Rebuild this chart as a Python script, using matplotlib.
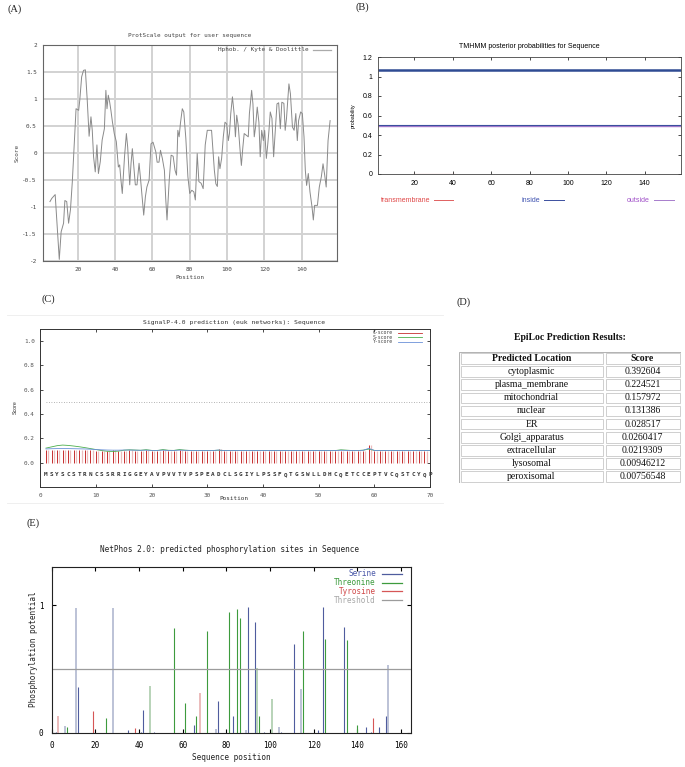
import matplotlib

matplotlib.use("Agg")
import matplotlib.pyplot as plt  # noqa: E402
import numpy as np  # noqa: E402
from matplotlib.lines import Line2D  # noqa: E402
from matplotlib.patches import Rectangle  # noqa: E402

W, H = 685, 767
MONO = "DejaVu Sans Mono"
SANS = "Liberation Sans"
SERIF = "Liberation Serif"

# (A) ProtScale, Kyte & Doolittle hydropathy
KD_POS = [5, 6, 7, 7.8, 10, 11, 12.3, 13, 14, 15, 16, 17, 18.2, 19, 20.4, 21, 22, 23, 24, 25,
          26, 27, 27.7, 28.4, 29.3, 30.2, 31, 32, 33, 34.2, 35, 35.6, 36.3, 37, 37.7, 38.5,
          39.5, 40.6, 41.7, 42.4, 43, 43.8, 45, 46, 46.7, 47.8, 48.5, 49.2, 50, 50.8, 51.7,
          52.8, 53.5, 55.3, 56.2, 57, 58.2, 59.2, 60.3, 61.8, 62.5, 63.5, 64.3, 65.3, 66.4,
          67.1, 67.8, 69, 70, 71.1, 72.1, 72.9, 73.6, 74.3, 75, 76, 76.8, 77.9, 79, 80, 81.1,
          82.2, 83, 84, 84.9, 86.1, 87.2, 88.3, 89.4, 91.7, 93.2, 94, 94.8, 95.5, 96.2, 97.1,
          98, 98.9, 99.8, 100.7, 101.3, 102, 102.9, 103.8, 104.5, 105.2, 106, 107, 107.7,
          108.5, 109.2, 110.3, 111.4, 112, 113.2, 113.9, 114.6, 115.3, 116.2, 117.1, 117.8,
          118.6, 119.5, 120.2, 121.1, 121.8, 122.5, 123.2, 124.1, 125, 125.9, 126.8, 127.7,
          128.6, 129.4, 130.5, 131.2, 131.9, 133.2, 134, 135.1, 136, 136.9, 137.7, 138.4,
          139.5, 140.4, 141.3, 142, 142.7, 143.6, 144.5, 145.6, 146.3, 147, 148.5, 149.5,
          150.6, 151.5, 152.4, 153.2, 154.2, 155.3]
KD_SCORE = [-0.90, -0.84, -0.80, -0.77, -1.97, -1.46, -1.30, -0.88, -0.90, -1.30, -1.05, -0.53,
            0.30, 0.82, 0.79, 0.98, 1.41, 1.53, 1.54, 0.98, 0.31, 0.67, 0.42, -0.07, -0.35, 0.15,
            -0.38, -0.16, 0.24, 0.45, 1.16, 0.82, 1.07, 0.95, 0.79, 0.58, 0.36, 0.21, -0.26,
            -0.22, -0.47, -0.75, -0.07, 0.36, 0.11, -0.59, -0.19, 0.08, -0.26, -0.59, -0.59,
            -0.19, -0.44, -1.15, -0.81, -0.63, -0.50, 0.17, 0.20, 0.02, -0.17, -0.17, 0.05,
            -0.10, -0.32, -0.84, -1.24, -0.50, -0.04, -0.06, -0.32, -0.41, 0.42, 0.30, 0.55,
            0.82, 0.76, 0.27, -0.44, -0.75, -0.69, -0.72, -0.87, -0.01, -0.53, -0.56, -0.66,
            0.15, 0.42, 0.42, -0.32, -0.57, -0.62, -0.07, -0.29, -0.10, 0.30, 0.57, 0.54, 0.23,
            0.36, 0.73, 1.04, 0.73, 0.30, 0.70, 0.51, 0.05, -0.23, 0.11, 0.36, 0.33, 0.30, 0.73,
            1.16, 0.91, 0.30, 0.48, 0.85, 0.57, -0.07, 0.42, 0.23, 0.42, -0.10, 0.14, 0.42,
            0.76, 0.64, -0.07, 0.42, 0.91, 0.93, 0.45, 0.94, 0.92, 0.42, 0.64, 1.28, 1.10, 0.48,
            0.42, 0.73, 0.23, 0.60, 0.76, 0.73, 0.30, -0.32, -0.60, -0.38, -0.72, -1.00, -1.24,
            -0.97, -0.97, -0.63, -0.44, -0.20, -0.41, -0.63, 0.23, 0.60]

# (B) TMHMM
SEQ_LEN = 159
TOPOLOGY_INSIDE = 1.065
P_INSIDE = 0.503
P_OUTSIDE = 0.497
TM_SPAN = [19, 41]

# (C) SignalP-4.0, first 70 residues
SEQ70 = "MSYSCSTRNCSSRRIGGEYAVPVVTVPSPEADCLSGIYLPSSFQTGSWLLDHCQETCCEPTVCQSTCYQP"
C_SCORE = [0.105, 0.104, 0.103, 0.102, 0.102, 0.101, 0.101, 0.102, 0.101, 0.100,
           0.100, 0.100, 0.101, 0.100, 0.100, 0.101, 0.100, 0.100, 0.101, 0.100,
           0.100, 0.101, 0.100, 0.100, 0.101, 0.100, 0.100, 0.100, 0.100, 0.100,
           0.100, 0.115, 0.100, 0.100, 0.100, 0.100, 0.100, 0.100, 0.100, 0.100,
           0.100, 0.100, 0.100, 0.100, 0.100, 0.100, 0.100, 0.100, 0.100, 0.100,
           0.100, 0.100, 0.100, 0.100, 0.100, 0.100, 0.100, 0.100, 0.145, 0.100,
           0.100, 0.100, 0.100, 0.100, 0.100, 0.100, 0.100, 0.100, 0.100, 0.100]
S_SCORE = [0.120, 0.130, 0.140, 0.145, 0.142, 0.137, 0.131, 0.124, 0.116, 0.108,
           0.100, 0.094, 0.092, 0.095, 0.103, 0.106, 0.104, 0.102, 0.107, 0.101,
           0.100, 0.108, 0.102, 0.101, 0.108, 0.103, 0.100, 0.101, 0.100, 0.100,
           0.100, 0.103, 0.100, 0.100, 0.101, 0.100, 0.100, 0.100, 0.100, 0.100,
           0.100, 0.100, 0.100, 0.100, 0.100, 0.100, 0.100, 0.100, 0.100, 0.100,
           0.100, 0.100, 0.100, 0.106, 0.103, 0.100, 0.100, 0.103, 0.112, 0.101,
           0.100, 0.100, 0.100, 0.100, 0.100, 0.100, 0.100, 0.100, 0.100, 0.100]
Y_SCORE = [0.113, 0.115, 0.116, 0.116, 0.116, 0.115, 0.114, 0.113, 0.111, 0.108,
           0.106, 0.104, 0.103, 0.103, 0.104, 0.104, 0.103, 0.102, 0.103, 0.101,
           0.101, 0.103, 0.101, 0.101, 0.103, 0.102, 0.101, 0.101, 0.100, 0.100,
           0.100, 0.104, 0.100, 0.100, 0.100, 0.100, 0.100, 0.100, 0.100, 0.100,
           0.100, 0.100, 0.100, 0.100, 0.100, 0.100, 0.100, 0.100, 0.100, 0.100,
           0.100, 0.100, 0.100, 0.102, 0.101, 0.100, 0.100, 0.102, 0.118, 0.101,
           0.100, 0.100, 0.100, 0.100, 0.100, 0.100, 0.100, 0.100, 0.100, 0.100]
SIGNALP_CUTOFF = 0.5

# (D) EpiLoc
LOCATIONS = ["cytoplasmic", "plasma_membrane", "mitochondrial", "nuclear", "ER",
             "Golgi_apparatus", "extracellular", "lysosomal", "peroxisomal"]
LOC_SCORES = ["0.392604", "0.224521", "0.157972", "0.131386", "0.028517",
              "0.0260417", "0.0219309", "0.00946212", "0.00756548"]

# (E) NetPhos 2.0
SER_POS = [2, 6, 11, 12, 28, 35, 41, 42, 47, 65, 75, 76, 83, 89, 90, 93, 97, 104, 105,
           111, 114, 122, 124, 134, 144, 146, 150, 153, 154]
SER_VAL = [0.01, 0.057, 0.98, 0.36, 0.98, 0.02, 0.01, 0.18, 0.005, 0.065, 0.03, 0.25, 0.135,
           0.02, 0.99, 0.87, 0.005, 0.05, 0.01, 0.70, 0.345, 0.025, 0.99, 0.83, 0.05, 0.01,
           0.045, 0.13, 0.53]
THR_POS = [7, 25, 45, 56, 61, 66, 71, 81, 85, 86, 94, 95, 101, 115, 125, 135, 140]
THR_VAL = [0.045, 0.12, 0.37, 0.82, 0.235, 0.135, 0.80, 0.945, 0.97, 0.90, 0.51, 0.13,
           0.27, 0.80, 0.74, 0.73, 0.063]
TYR_POS = [3, 19, 38, 68, 147]
TYR_VAL = [0.13, 0.17, 0.04, 0.31, 0.12]
NETPHOS_THRESHOLD = 0.5

# bars that come out washed-out in the reference raster (drawn lighter)
FAINT_SITES = {3, 6, 11, 28, 45, 68, 75, 89, 94, 101, 104, 114, 154}


def px_axes(fig, left, top, right, bottom):
    return fig.add_axes([left / W, 1 - bottom / H, (right - left) / W, (bottom - top) / H])


def ftext(fig, x, y, s, **kw):
    kw.setdefault("ha", "center")
    kw.setdefault("va", "center")
    return fig.text(x / W, 1 - y / H, s, **kw)


def fline(fig, x0, x1, y, **kw):
    fig.add_artist(Line2D([x0 / W, x1 / W], [1 - y / H, 1 - y / H], **kw))


def panel_a(fig):
    ax = px_axes(fig, 42.5, 45, 337, 261)
    ax.plot(KD_POS, KD_SCORE, color="#8a8a8a", lw=0.7)
    ax.set_xlim(1, SEQ_LEN)
    ax.set_ylim(-2, 2)
    ax.set_xticks(range(20, 141, 20))
    yt = np.arange(-2, 2.01, 0.5)
    ax.set_yticks(yt)
    ax.set_yticklabels(["%g" % v for v in yt])
    ax.set_axisbelow(True)
    ax.grid(color="#d2d2d2", lw=1.4)
    ax.tick_params(length=0, labelsize=4.3, labelcolor="#444", pad=4)
    for lab in ax.get_xticklabels() + ax.get_yticklabels():
        lab.set_fontfamily(MONO)
    for sp in ax.spines.values():
        sp.set_color("#666")
        sp.set_linewidth(0.8)
    ax.text(0.905, 0.977, "Hphob. / Kyte & Doolittle", transform=ax.transAxes, ha="right",
            va="center", fontsize=4.3, family=MONO, color="#444")
    ax.plot([0.918, 0.98], [0.977, 0.977], transform=ax.transAxes, color="#aaa", lw=0.9)
    ftext(fig, 190, 35, "ProtScale output for user sequence", fontsize=4.3, family=MONO, color="#444")
    ftext(fig, 190, 277, "Position", fontsize=4.3, family=MONO, color="#444")
    ftext(fig, 17, 153, "Score", fontsize=4.3, family=MONO, color="#444", rotation=90)


def panel_b(fig):
    ax = px_axes(fig, 378, 57, 681, 174)
    ax.hlines(TOPOLOGY_INSIDE, 1, SEQ_LEN, color="#2f4b93", lw=1.8)
    ax.hlines(P_OUTSIDE, 1, SEQ_LEN, color="#a77ccc", lw=1.0)
    ax.hlines(P_INSIDE, 1, SEQ_LEN, color="#3b4f9e", lw=0.8)
    ax.hlines(0.004, TM_SPAN[0], TM_SPAN[1], color="#e06060", lw=0.8)
    ax.set_xlim(1, SEQ_LEN)
    ax.set_ylim(0, 1.2)
    ax.set_xticks(range(20, 141, 20))
    yt = np.arange(0, 1.21, 0.2)
    ax.set_yticks(yt)
    ax.set_yticklabels(["%g" % round(v, 1) for v in yt])
    ax.tick_params(direction="in", top=True, right=True, length=2, width=0.5,
                   labelsize=5, pad=4)
    for lab in ax.get_xticklabels() + ax.get_yticklabels():
        lab.set_fontfamily(SANS)
    for sp in ax.spines.values():
        sp.set_linewidth(0.6)
        sp.set_color("#444")
    ftext(fig, 529, 46.5, "TMHMM posterior probabilities for Sequence", fontsize=5, family=SANS)
    ftext(fig, 353, 116, "probability", fontsize=3.8, family=SANS, rotation=90)
    ftext(fig, 430, 200, "transmembrane", fontsize=5, family=SANS, color="#e04848", ha="right")
    fline(fig, 434, 453, 200, color="#e06060", lw=0.7)
    ftext(fig, 540, 200, "inside", fontsize=5, family=SANS, color="#3e52b0", ha="right")
    fline(fig, 544, 564, 200, color="#3b4f9e", lw=0.7)
    ftext(fig, 650, 200, "outside", fontsize=5, family=SANS, color="#a050c8", ha="right")
    fline(fig, 654, 674, 200, color="#a77ccc", lw=0.7)


def panel_c(fig):
    fline(fig, 7, 443, 315, color="#ececec", lw=0.6)
    fline(fig, 7, 443, 503, color="#ececec", lw=0.6)
    ax = px_axes(fig, 40.4, 329, 430, 487)
    pos = np.arange(1, len(SEQ70) + 1)
    ax.vlines(pos + 0.4, 0, C_SCORE, color="#ecbcbc", lw=0.9)
    ax.vlines(pos, 0, C_SCORE, color="#c62e2e", lw=0.7)
    ax.plot(pos, S_SCORE, color="#4caf4c", lw=0.6)
    ax.plot(pos, Y_SCORE, color="#6a90d8", lw=0.6)
    ax.hlines(SIGNALP_CUTOFF, 1, 70, color="#9a9a9a", lw=0.6, linestyles=(0, (1, 2)))
    for p, aa in zip(pos, SEQ70):
        ax.text(p, -0.1, aa, ha="center", va="center", fontsize=4.3, family=MONO,
                color="#333", fontweight="bold")
    ax.set_xlim(0, 70)
    ax.set_ylim(-0.2, 1.1)
    ax.set_xticks(range(0, 71, 10))
    yt = np.arange(0, 1.01, 0.2)
    ax.set_yticks(yt)
    ax.set_yticklabels(["%.1f" % v for v in yt])
    ax.tick_params(direction="in", top=True, right=True, length=2, width=0.5,
                   labelsize=4.3, labelcolor="#555", pad=4)
    for lab in ax.get_xticklabels() + ax.get_yticklabels():
        lab.set_fontfamily(MONO)
    for sp in ax.spines.values():
        sp.set_linewidth(0.7)
        sp.set_color("#333")
    names = ["C-score", "S-score", "Y-score"]
    colors = ["#c62e2e", "#4caf4c", "#6a90d8"]
    for k, (name, col) in enumerate(zip(names, colors)):
        y = 333 + 4.4 * k
        ftext(fig, 393, y, name, fontsize=3.5, family=MONO, color="#444", ha="right")
        fline(fig, 398, 422, y, color=col, lw=0.6)
    ftext(fig, 234, 322.5, "SignalP-4.0 prediction (euk networks): Sequence", fontsize=4.6,
          family=MONO, color="#333")
    ftext(fig, 234, 498.5, "Position", fontsize=4.3, family=MONO, color="#333")
    ftext(fig, 15, 407, "Score", fontsize=3.8, family=SANS, color="#333", rotation=90)


def panel_d(fig):
    ftext(fig, 570, 337, "EpiLoc Prediction Results:", fontsize=7, family=SERIF,
          fontweight="bold", color="#111")
    left, top, right, bottom = 459, 352, 681, 483
    ax = px_axes(fig, left, top, right, bottom)
    nrow = len(LOCATIONS) + 1
    ax.set_xlim(0, right - left)
    ax.set_ylim(bottom - top, 0)
    ax.axis("off")
    rh = (bottom - top) / nrow
    split = 604 - left
    cols = [(0, split), (split, right - left)]
    rows = [("Predicted Location", "Score")] + list(zip(LOCATIONS, LOC_SCORES))
    ax.add_patch(Rectangle((0, 0), right - left, bottom - top, fill=False,
                           edgecolor="#b4b4b4", lw=0.8))
    for r, cells in enumerate(rows):
        for (c0, c1), txt in zip(cols, cells):
            ax.add_patch(Rectangle((c0 + 1.5, r * rh + 1.2), c1 - c0 - 3, rh - 2.4, fill=False,
                                   edgecolor="#c8c8c8", lw=0.6))
            ax.text((c0 + c1) / 2, (r + 0.5) * rh, txt, ha="center", va="center",
                    fontsize=7, family=SERIF, color="#111",
                    fontweight="bold" if r == 0 else "normal")


def draw_sites(ax, xs, vals, color, faint):
    for x, v in zip(xs, vals):
        if x in FAINT_SITES:
            ax.vlines(x, 0, v, color=faint, lw=1.1)
        else:
            ax.vlines(x, 0, v, color=color, lw=0.8)


def panel_e(fig):
    ax = px_axes(fig, 51.7, 567, 411, 733)
    draw_sites(ax, SER_POS, SER_VAL, "#4f5c9e", "#aab1cc")
    draw_sites(ax, THR_POS, THR_VAL, "#3d9b3d", "#a4c8a4")
    draw_sites(ax, TYR_POS, TYR_VAL, "#d65656", "#e6a8a8")
    ax.axhline(NETPHOS_THRESHOLD, color="#9c9c9c", lw=0.9)
    ax.set_xlim(0, 164.5)
    ax.set_ylim(0, 1.3)
    ax.set_xticks(range(0, 161, 20))
    ax.set_yticks([0, 1])
    ax.tick_params(direction="in", top=True, right=True, length=3, width=0.8,
                   labelsize=5.5, pad=6)
    for lab in ax.get_xticklabels() + ax.get_yticklabels():
        lab.set_fontfamily(MONO)
    for sp in ax.spines.values():
        sp.set_linewidth(0.8)
        sp.set_color("#222")
    names = ["Serine", "Threonine", "Tyrosine", "Threshold"]
    tcolors = ["#4a58a8", "#3d9b3d", "#d04848", "#a8a8a8"]
    lcolors = ["#4f5c9e", "#3d9b3d", "#d65656", "#9c9c9c"]
    for k, name in enumerate(names):
        y = 574 + 8.7 * k
        ftext(fig, 376, y, name, fontsize=5.5, family=MONO, color=tcolors[k], ha="right")
        fline(fig, 382, 402, y, color=lcolors[k], lw=0.9)
    ftext(fig, 230, 549, "NetPhos 2.0: predicted phosphorylation sites in Sequence",
          fontsize=5.6, family=MONO, color="#222")
    ftext(fig, 231, 757, "Sequence position", fontsize=5.6, family=MONO, color="#222")
    ftext(fig, 33, 649, "Phosphorylation potential", fontsize=5.6, family=MONO,
          color="#222", rotation=90)


def main() -> None:
    fig = plt.figure(figsize=(W / 100, H / 100), dpi=100)
    for lab, x, y in [("(A)", 15, 9), ("(B)", 362, 7), ("(C)", 48, 299), ("(D)", 464, 302),
                      ("(E)", 33, 523)]:
        ftext(fig, x, y, lab, fontsize=7.5, family=SERIF, color="#222")
    panel_a(fig)
    panel_b(fig)
    panel_c(fig)
    panel_d(fig)
    panel_e(fig)
    fig.savefig("out.png", dpi=100)
    plt.close(fig)


if __name__ == "__main__":
    main()
